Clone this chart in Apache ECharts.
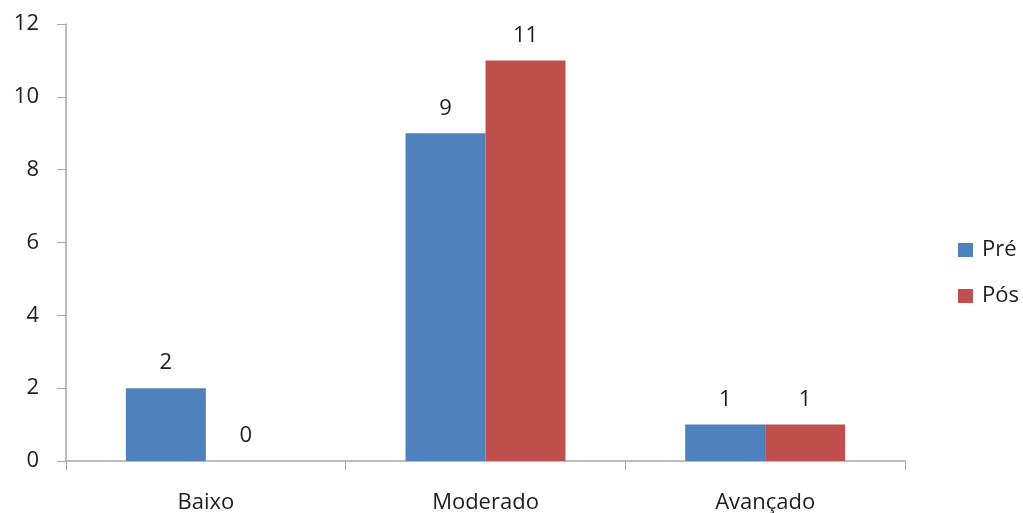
<!DOCTYPE html>
<html>
<head>
<meta charset="utf-8">
<script src="https://cdn.jsdelivr.net/npm/echarts@6/dist/echarts.min.js"></script>
<style>
html,body{margin:0;padding:0;background:#fff;}
#chart{width:1023px;height:513px;}
</style>
</head>
<body>
<div id="chart"></div>
<script>
const categories = ['Baixo', 'Moderado', 'Avançado'];
const preValues = [2, 9, 1];
const posValues = [0, 11, 1];
const seriesNames = ['Pré', 'Pós'];

const font = '"Open Sans", sans-serif';
const textColor = '#1e1e1e';
const axisColor = '#a6a6a6';

const labelStyle = {
  show: true,
  position: 'top',
  distance: 14,
  color: textColor,
  fontFamily: font,
  fontSize: 22
};

const chart = echarts.init(document.getElementById('chart'));
chart.setOption({
  animation: false,
  backgroundColor: '#fff',
  grid: { left: 66, right: 118, top: 24, bottom: 52, containLabel: false, outerBoundsMode: 'none' },
  legend: {
    orient: 'vertical',
    left: 953,
    top: 234,
    itemWidth: 15,
    itemHeight: 14,
    itemGap: 24,
    icon: 'rect',
    textStyle: { color: textColor, fontFamily: font, fontSize: 22, padding: [0, 0, 0, 4] },
    data: seriesNames
  },
  xAxis: {
    type: 'category',
    data: categories,
    axisLine: { lineStyle: { color: axisColor, width: 1.5 } },
    axisTick: { show: true, length: 9, lineStyle: { color: axisColor } },
    axisLabel: { color: textColor, fontFamily: font, fontSize: 22, margin: 31 }
  },
  yAxis: {
    type: 'value',
    min: 0,
    max: 12,
    interval: 2,
    splitLine: { show: false },
    axisLine: { show: true, lineStyle: { color: axisColor, width: 1.5 } },
    axisTick: { show: true, length: 9, lineStyle: { color: axisColor } },
    axisLabel: { color: textColor, fontFamily: font, fontSize: 22, margin: 27 }
  },
  series: [
    {
      name: seriesNames[0],
      type: 'bar',
      data: preValues,
      barGap: '0%',
      barCategoryGap: '42.8%',
      itemStyle: { color: '#4F81BD' },
      label: labelStyle
    },
    {
      name: seriesNames[1],
      type: 'bar',
      data: posValues,
      barGap: '0%',
      barCategoryGap: '42.8%',
      itemStyle: { color: '#C0504D' },
      label: labelStyle
    }
  ]
});
</script>
</body>
</html>
